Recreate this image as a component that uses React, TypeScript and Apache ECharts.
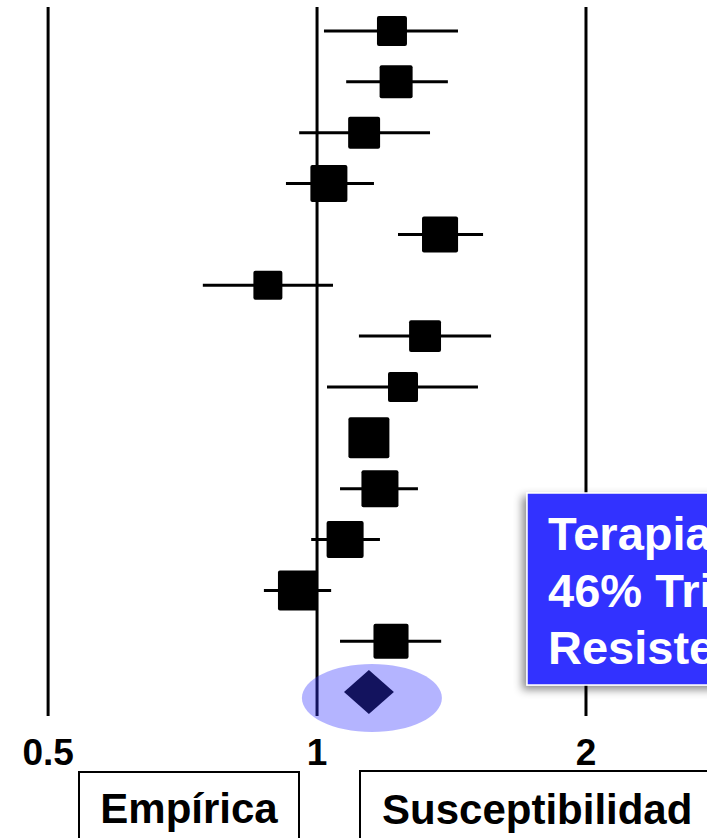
import React, { useEffect, useRef } from 'react';
import * as echarts from 'echarts';

// Odds ratios (log scale), top to bottom
const studyOR = [1.213, 1.226, 1.129, 1.031, 1.373, 0.881, 1.321, 1.248, 1.143, 1.176, 1.075, 0.952, 1.21];
const ciLow = [1.018, 1.078, 0.955, 0.923, 1.232, 0.745, 1.114, 1.026, 1.097, 1.061, 0.985, 0.872, 1.061];
const ciHigh = [1.438, 1.401, 1.338, 1.158, 1.534, 1.042, 1.566, 1.514, 1.195, 1.297, 1.176, 1.037, 1.377];
const weights = [9.0, 10.9, 10.2, 13.7, 13.0, 8.4, 10.2, 9.0, 16.8, 13.7, 13.7, 16.0, 12.3];
const pooled = [1.143, 1.072, 1.219];
const refLines = [0.5, 1, 2];
const tickValues = [0.5, 1, 2];
const tickLabels = ['0.5', '1', '2'];
const bottomLabels = ['Empírica', 'Susceptibilidad'];
const calloutLines = ['Terapia', '46% Triple', 'Resistencia'];

const FONT = '"Liberation Sans", Arial, Helvetica, sans-serif';

export default function App() {
  const ref = useRef<HTMLDivElement>(null);
  useEffect(() => {
    const chart = echarts.init(ref.current!, null, { renderer: 'svg' });
    const pooledRow = studyOR.length + 1;
    const option: any = {
      animation: false,
      backgroundColor: '#ffffff',
      grid: { left: 0, right: 0, top: 7, bottom: 122, containLabel: false },
      xAxis: {
        type: 'log',
        logBase: 2,
        min: 0.4417,
        max: 2.732,
        axisLine: { show: false },
        axisTick: { show: false },
        splitLine: { show: false },
        axisLabel: {
          customValues: tickValues,
          formatter: (v: number) => {
            const i = tickValues.findIndex((t) => Math.abs(t - v) < 1e-6);
            return i >= 0 ? tickLabels[i] : '';
          },
          fontSize: 37,
          fontWeight: 'bold',
          fontFamily: FONT,
          color: '#000',
          verticalAlign: 'middle',
          margin: 36,
        },
      },
      yAxis: {
        type: 'value',
        inverse: true,
        min: 0.528,
        max: 14.47,
        show: false,
      },
      series: [
        {
          type: 'custom',
          z: 1,
          data: refLines.map((v) => [v, 1]),
          encode: { x: 0, y: 1 },
          renderItem: (params: any, api: any) => {
            const cs = params.coordSys;
            const x = api.coord([api.value(0), 1])[0];
            return {
              type: 'line',
              shape: { x1: x, y1: cs.y, x2: x, y2: cs.y + cs.height },
              style: { stroke: '#000', lineWidth: 3 },
            };
          },
        },
        {
          type: 'custom',
          z: 3,
          data: studyOR.map((v, i) => [v, ciLow[i], ciHigh[i], i + 1, weights[i]]),
          encode: { x: [0, 1, 2], y: 3 },
          renderItem: (params: any, api: any) => {
            const row = api.value(3);
            const pm = api.coord([api.value(0), row]);
            const pl = api.coord([api.value(1), row]);
            const ph = api.coord([api.value(2), row]);
            const s = 10 * Math.sqrt(api.value(4));
            return {
              type: 'group',
              children: [
                {
                  type: 'line',
                  shape: { x1: pl[0], y1: pl[1], x2: ph[0], y2: ph[1] },
                  style: { stroke: '#000', lineWidth: 3 },
                },
                {
                  type: 'rect',
                  shape: { x: pm[0] - s / 2, y: pm[1] - s / 2, width: s, height: s, r: 2 },
                  style: { fill: '#000' },
                },
              ],
            };
          },
        },
        {
          type: 'custom',
          z: 5,
          data: [[pooled[0], pooled[1], pooled[2], pooledRow]],
          encode: { x: [0, 1, 2], y: 3 },
          renderItem: (params: any, api: any) => {
            const row = api.value(3);
            const pm = api.coord([api.value(0), row]);
            const pl = api.coord([api.value(1), row]);
            const ph = api.coord([api.value(2), row]);
            const h = 22;
            return {
              type: 'group',
              children: [
                {
                  type: 'polygon',
                  shape: {
                    points: [
                      [pl[0], pm[1]],
                      [pm[0], pm[1] - h],
                      [ph[0], pm[1]],
                      [pm[0], pm[1] + h],
                    ],
                  },
                  style: { fill: '#000' },
                },
                {
                  type: 'ellipse',
                  shape: { cx: pm[0] + 3, cy: pm[1] + 6, rx: 70, ry: 34 },
                  style: { fill: 'rgba(51,51,255,0.37)' },
                },
              ],
            };
          },
        },
      ],
      graphic: [
        {
          type: 'rect',
          z: 100,
          shape: { x: 79, y: 772, width: 220, height: 100 },
          style: { fill: '#fff', stroke: '#000', lineWidth: 2 },
        },
        {
          type: 'text',
          z: 101,
          x: 189,
          y: 808,
          style: {
            text: bottomLabels[0],
            fill: '#000',
            fontSize: 42,
            fontWeight: 'bold',
            fontFamily: FONT,
            align: 'center',
            verticalAlign: 'middle',
          },
        },
        {
          type: 'rect',
          z: 100,
          shape: { x: 360, y: 771, width: 400, height: 100 },
          style: { fill: '#fff', stroke: '#000', lineWidth: 2 },
        },
        {
          type: 'text',
          z: 101,
          x: 382,
          y: 809,
          style: {
            text: bottomLabels[1],
            fill: '#000',
            fontSize: 42,
            fontWeight: 'bold',
            fontFamily: FONT,
            align: 'left',
            verticalAlign: 'middle',
          },
        },
        {
          type: 'rect',
          z: 100,
          shape: { x: 527, y: 493, width: 260, height: 192 },
          style: {
            fill: '#3333ff',
            stroke: '#ffffff',
            lineWidth: 1.5,
            shadowBlur: 8,
            shadowOffsetX: -4,
            shadowOffsetY: 4,
            shadowColor: 'rgba(0,0,0,0.45)',
          },
        },
        ...calloutLines.map((t, i) => ({
          type: 'text',
          z: 101,
          x: 548,
          y: 533 + i * 57,
          style: {
            text: t,
            fill: '#fff',
            fontSize: 47,
            fontWeight: 'bold',
            fontFamily: FONT,
            align: 'left',
            verticalAlign: 'middle',
          },
        })),
      ],
    };
    chart.setOption(option);
    return () => chart.dispose();
  }, []);
  return (
    <div
      ref={ref}
      style={{ position: 'absolute', left: 0, top: 0, width: 707, height: 838, background: '#fff' }}
    />
  );
}
